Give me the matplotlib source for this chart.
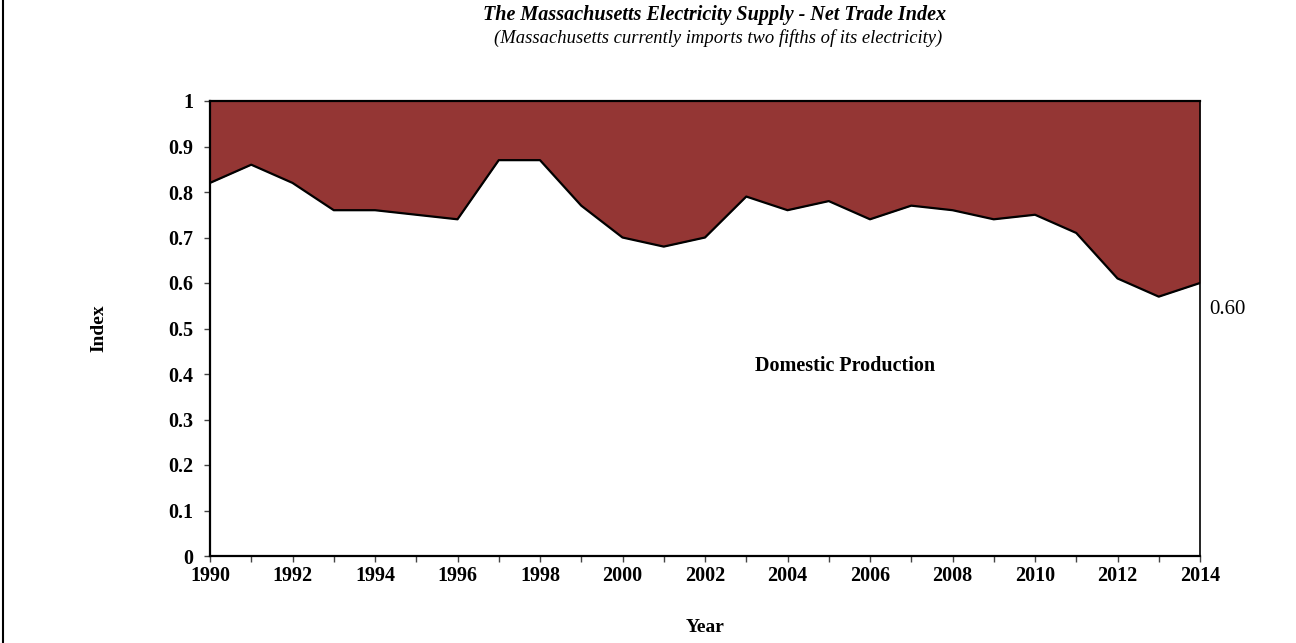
import matplotlib
matplotlib.use("Agg")
import matplotlib.pyplot as plt
from matplotlib.lines import Line2D
from matplotlib.ticker import MultipleLocator

years = list(range(1990, 2015))
domestic_index = [0.82, 0.86, 0.82, 0.76, 0.76, 0.75, 0.74, 0.87, 0.87, 0.77,
                  0.70, 0.68, 0.70, 0.79, 0.76, 0.78, 0.74, 0.77, 0.76, 0.74,
                  0.75, 0.71, 0.61, 0.57, 0.60]
y_ticks = [0, 0.1, 0.2, 0.3, 0.4, 0.5, 0.6, 0.7, 0.8, 0.9, 1]
y_tick_labels = ["0", "0.1", "0.2", "0.3", "0.4", "0.5", "0.6", "0.7", "0.8", "0.9", "1"]

plt.rcParams["font.family"] = ["Liberation Serif", "DejaVu Serif"]

fig = plt.figure(figsize=(12.96, 6.43), dpi=100)
ax = fig.add_axes([210 / 1296, 1 - 556 / 643, 990 / 1296, 455 / 643])

# Imports fill the gap between domestic production and full supply
ax.fill_between(years, domestic_index, 1, color="#943634", linewidth=0)
ax.plot(years, domestic_index, color="black", linewidth=1.6)

ax.set_xlim(1990, 2014)
ax.set_ylim(0, 1)
ax.xaxis.set_major_locator(MultipleLocator(2))
ax.xaxis.set_minor_locator(MultipleLocator(1))
ax.set_yticks(y_ticks)
ax.set_yticklabels(y_tick_labels)
for lbl in ax.get_xticklabels() + ax.get_yticklabels():
    lbl.set_fontweight("bold")
ax.tick_params(axis="both", which="major", labelsize=14.5, length=4, width=1,
               direction="out", color="#444444")
ax.tick_params(axis="x", which="minor", length=4, width=1, direction="out", color="#444444")
ax.tick_params(axis="x", pad=3)
ax.tick_params(axis="y", pad=8)
for side in ["left", "bottom", "top", "right"]:
    ax.spines[side].set_linewidth(1.6 if side in ("left", "bottom", "top") else 1.2)
    ax.spines[side].set_color("black")

ax.set_ylabel("Index", fontsize=14, fontweight="bold", labelpad=44)
ax.set_xlabel("Year", fontsize=14, fontweight="bold", labelpad=24)

ax.text(2005.4, 0.418, "Domestic Production", fontsize=14.5, fontweight="bold",
        ha="center", va="center")
ax.annotate(f"{domestic_index[-1]:.2f}", xy=(years[-1], domestic_index[-1]),
            xytext=(7, -12), textcoords="offset points", fontsize=15,
            ha="left", va="top", annotation_clip=False)

fig.text(715 / 1296, 1 - 15 / 643, "The Massachusetts Electricity Supply - Net Trade Index",
         fontsize=14.5, fontweight="bold", fontstyle="italic", ha="center", va="center")
fig.text(718 / 1296, 1 - 38 / 643, "(Massachusetts currently imports two fifths of its electricity)",
         fontsize=13.4, fontstyle="italic", ha="center", va="center")

# Left edge frame line
fig.add_artist(Line2D([2.5 / 1296, 2.5 / 1296], [0, 1], transform=fig.transFigure,
                      color="black", linewidth=1.5))

fig.savefig("out.png", dpi=100)
